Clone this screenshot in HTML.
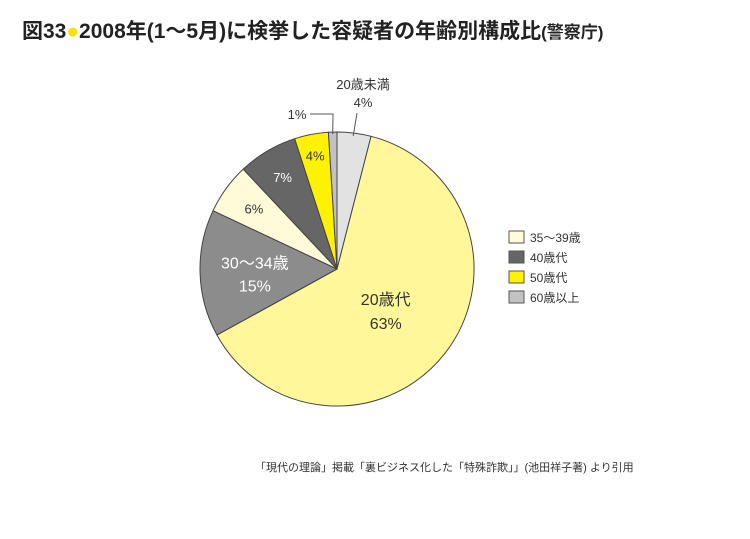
<!DOCTYPE html>
<html><head><meta charset="utf-8"><style>
body{margin:0;background:#fff;width:750px;height:534px;overflow:hidden;font-family:"Liberation Sans","Noto Sans CJK JP",sans-serif;}
</style></head><body>
<svg width="750" height="534" style="font-family:'Liberation Sans','Noto Sans CJK JP',sans-serif">
<text x="22" y="38" font-size="21" font-weight="bold" fill="#222">図33<tspan fill="#f5e400">●</tspan>2008年(1～5月)に検挙した容疑者の年齢別構成比<tspan font-size="17">(警察庁)</tspan></text>
<g id="pie"></g>
<g id="labels"></g>
<g id="legend"></g>
<text x="255" y="471" font-size="11" fill="#333">「現代の理論」掲載「裏ビジネス化した「特殊詐欺」」(池田祥子著) より引用</text>
</svg>
<script>
const categories=["20歳未満","20歳代","30〜34歳","35〜39歳","40歳代","50歳代","60歳以上"];
const values=[4,63,15,6,7,4,1];
const colors=["#e2e2e2","#fff799","#8c8c8c","#fffbd8","#666666","#fff200","#c2c2c2"];
const legendIdx=[3,4,5,6];
const legendNames=["35～39歳","40歳代","50歳代","60歳以上"];
const NS="http://www.w3.org/2000/svg";
const cx=337,cy=269,r=137;
const total=values.reduce((a,b)=>a+b,0);
function pt(frac,rad){const a=frac*2*Math.PI-Math.PI/2;return [cx+rad*Math.cos(a),cy+rad*Math.sin(a)];}
const pie=document.getElementById('pie'),lab=document.getElementById('labels');
function mk(tag,attrs,parent){const e=document.createElementNS(NS,tag);for(const k in attrs)e.setAttribute(k,attrs[k]);parent.appendChild(e);return e;}
let acc=0;const mids=[];
values.forEach((v,i)=>{
  const s=acc/total,e=(acc+v)/total;acc+=v;mids.push((s+e)/2);
  const [x1,y1]=pt(s,r),[x2,y2]=pt(e,r);
  const p=mk('path',{d:`M${cx},${cy}L${x1},${y1}A${r},${r} 0 ${e-s>0.5?1:0} 1 ${x2},${y2}Z`,fill:colors[i],stroke:'#444','stroke-width':1},pie);
  
  
});
function txt(x,y,s,size,fill){const t=mk('text',{x:x,y:y,'font-size':size,fill:fill,'text-anchor':'middle'},lab);t.textContent=s;

return t;}
const pct=i=>values[i]+'%';
// 20s
let [x,y]=pt(mids[1],r*0.45);txt(x,y-2,categories[1],16,'#333');txt(x,y+22,pct(1),16,'#333');
[x,y]=pt(mids[2],r*0.6);txt(x,y-3,'30～34歳',16,'#fff');txt(x,y+20,pct(2),16,'#fff');
[x,y]=pt(mids[3],r*0.75);txt(x,y+5,pct(3),13,'#333');
[x,y]=pt(mids[4],r*0.78);txt(x,y+5,pct(4),13,'#fff');
[x,y]=pt(mids[5],r*0.85);txt(x,y+6,pct(5),13,'#333');
// outside labels
[x,y]=pt(mids[0],r);txt(363,89,categories[0],13,'#333');txt(363,107,pct(0),13,'#333');
mk('line',{x1:357,y1:113,x2:x-1,y2:y+3,stroke:'#555','stroke-width':1},lab);
[x,y]=pt(mids[6],r);txt(297,119,pct(6),13,'#333');
mk('polyline',{points:`310,114 333,114 ${x},${y+2}`,fill:'none',stroke:'#555','stroke-width':1},lab);
const lg=document.getElementById('legend');
legendIdx.forEach((ci,k)=>{
  const yy=231+k*20;
  const rc=mk('rect',{x:509,y:yy,width:15,height:12,fill:colors[ci],stroke:'#555','stroke-width':1},lg);
  
  
  const t=mk('text',{x:530,y:yy+11,'font-size':12,fill:'#333'},lg);t.textContent=legendNames[k];
  
  
});
</script>
</body></html>
